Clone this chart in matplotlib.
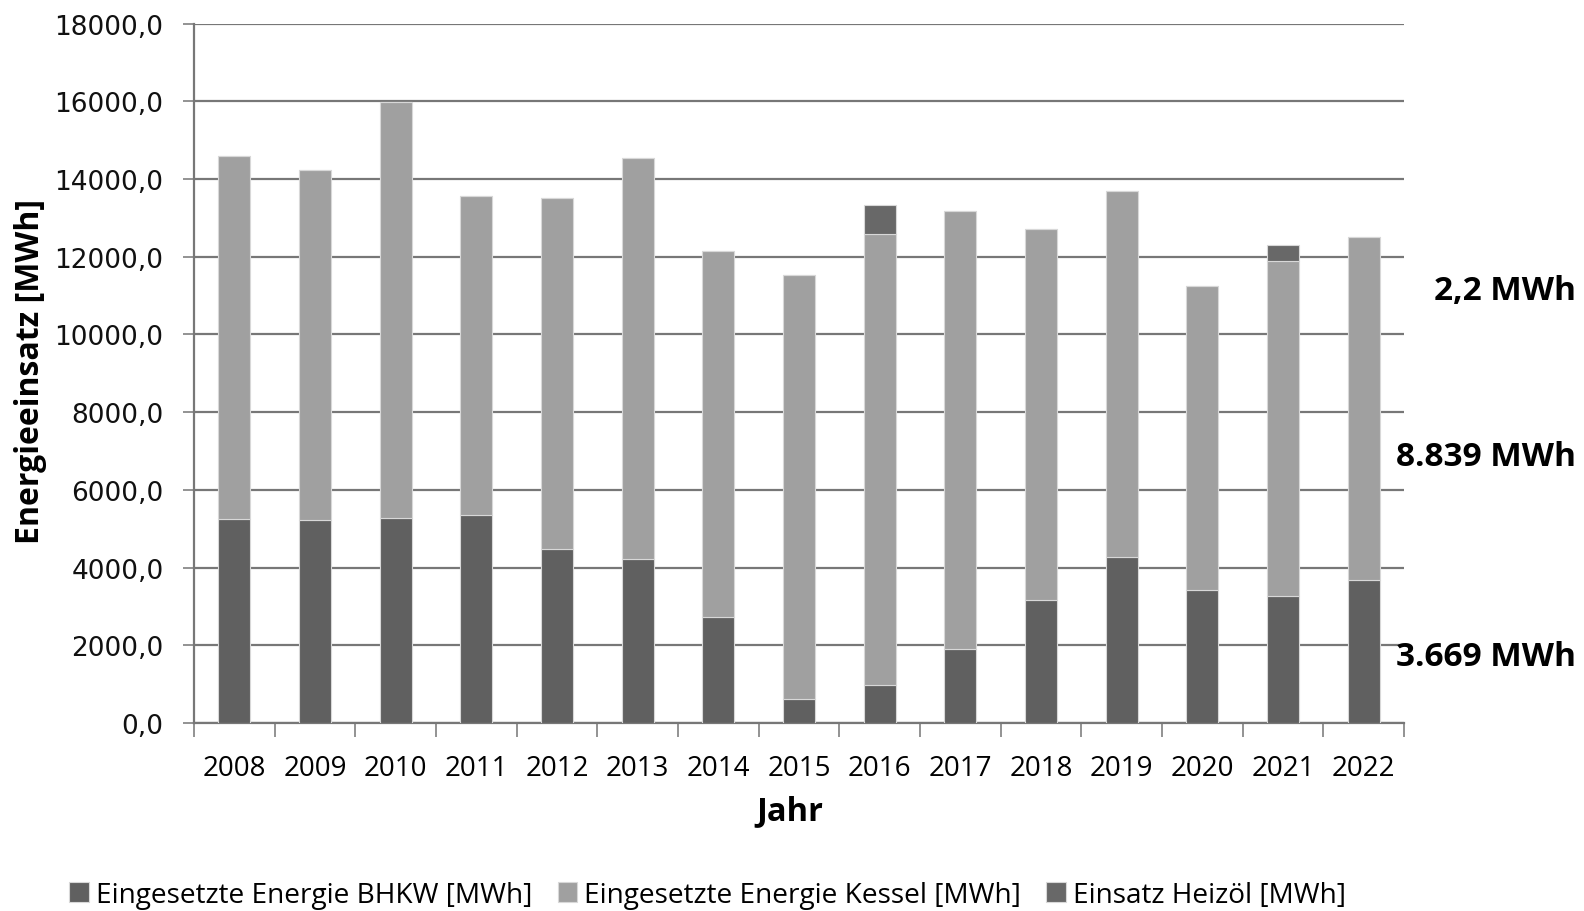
import matplotlib
matplotlib.use("Agg")
import matplotlib.pyplot as plt
import numpy as np

years = ["2008", "2009", "2010", "2011", "2012", "2013", "2014", "2015",
         "2016", "2017", "2018", "2019", "2020", "2021", "2022"]
bhkw = [5256, 5222, 5266, 5359, 4481, 4222, 2716, 618, 987, 1910, 3175, 4275, 3420, 3265, 3669]
kessel = [9328, 9018, 10724, 8196, 9030, 10319, 9423, 10903, 11597, 11276, 9530, 9416, 7826, 8617, 8839]
heizoel = [0, 0, 0, 0, 0, 0, 0, 0, 739, 0, 0, 0, 0, 427, 2.2]
yticks = list(range(0, 18001, 2000))
ytick_labels = [f"{v},0" for v in yticks]
side_labels = ["2,2 MWh", "8.839 MWh", "3.669 MWh"]

W, H = 1584, 912
fig = plt.figure(figsize=(W / 100, H / 100), dpi=100)
ax = fig.add_axes([194 / W, 1 - 724 / H, (1404 - 194) / W, (724 - 24.6) / H])

x = np.arange(len(years))
c_bhkw, c_kessel, c_heiz = "#606060", "#a0a0a0", "#686868"
edge = "#d8d8d8"
b = np.array(bhkw, float)
k = np.array(kessel, float)
h = np.array(heizoel, float)
ax.bar(x, b, width=0.4, color=c_bhkw, edgecolor=edge, linewidth=0.8, zorder=3,
       label="Eingesetzte Energie BHKW [MWh]")
ax.bar(x, k, width=0.4, bottom=b, color=c_kessel, edgecolor=edge, linewidth=0.8, zorder=3,
       label="Eingesetzte Energie Kessel [MWh]")
ax.bar(x, h, width=0.4, bottom=b + k, color=c_heiz, edgecolor=edge, linewidth=0.8, zorder=3,
       label="Einsatz Heizöl [MWh]")

ax.set_xlim(-0.5, len(years) - 0.5)
ax.set_ylim(0, 18000)
ax.set_yticks(yticks)
ax.set_yticklabels(ytick_labels, fontsize=19, family="DejaVu Sans", color="#111111")
ax.grid(axis="y", color="#777777", linewidth=1.6, zorder=0)
ax.set_axisbelow(True)

ax.set_xticks(x)
ax.set_xticklabels(years, fontsize=20, family="Open Sans")
ax.set_xticks(np.arange(-0.5, len(years), 1.0), minor=True)
ax.tick_params(axis="x", which="major", length=0, pad=22)
ax.tick_params(axis="x", which="minor", length=10, color="#808080", width=1.2)
ax.tick_params(axis="y", length=8, color="#808080", width=1.2, pad=14)

for s in ["top", "right"]:
    ax.spines[s].set_visible(False)
ax.spines["left"].set_color("#777777")
ax.spines["left"].set_linewidth(1.6)
ax.spines["bottom"].set_color("#777777")
ax.spines["bottom"].set_linewidth(1.6)

fig.text(31 / W, 1 - 372 / H, "Energieeinsatz [MWh]", rotation=90, ha="center", va="center",
         fontsize=23, fontweight="bold", family="Open Sans")
fig.text(790 / W, 1 - 812 / H, "Jahr", ha="center", va="center",
         fontsize=23.5, fontweight="bold", family="Open Sans")

side_y = [292, 458, 658]
for lbl, yy in zip(side_labels, side_y):
    fig.text(1576 / W, 1 - yy / H, lbl, ha="right", va="center",
             fontsize=24, fontweight="bold", family="Open Sans")

leg = fig.legend(loc="center left", bbox_to_anchor=(44 / W, 1 - 896 / H), ncol=3, frameon=False,
                 prop={"family": "Open Sans", "size": 20.2}, handlelength=0.7, handleheight=0.7,
                 handletextpad=0.25, columnspacing=0.9)

fig.savefig("out.png", dpi=100)
